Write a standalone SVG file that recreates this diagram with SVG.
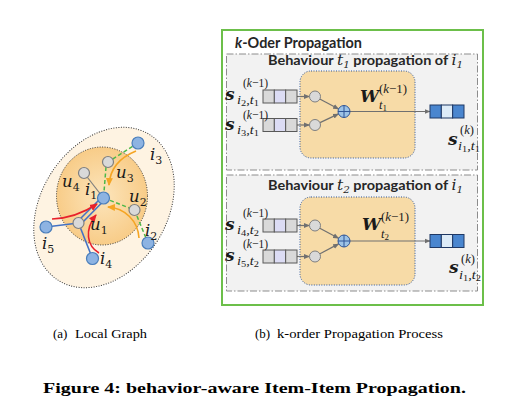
<svg xmlns="http://www.w3.org/2000/svg" width="505" height="409" viewBox="0 0 505 409">
<defs>
<style>
.sans{font-family:Lato,"Open Sans","Liberation Sans",sans-serif;font-weight:bold;fill:#262626}
.mi{font-family:"DejaVu Serif",serif;font-style:italic;font-weight:normal}
.math{font-family:"DejaVu Serif",serif;font-style:italic;fill:#1a1a1a}
.ms{font-family:"Liberation Serif",serif;font-style:italic;fill:#1a1a1a;font-size:12.5px}
.bn{fill:#8DB3E2;stroke:#4A7EBB;stroke-width:1.2}
.gn{fill:#D9D9D9;stroke:#7F7F7F;stroke-width:1.2}
.gd{fill:none;stroke:#4CB848;stroke-width:1.5;stroke-dasharray:4 2.5}
.bl{fill:none;stroke:#4472C4;stroke-width:1.6}
.gl{fill:none;stroke:#7F7F7F;stroke-width:1.2}
.rd{fill:none;stroke:#E8212B;stroke-width:1.6}
.or{fill:none;stroke:#F5A524;stroke-width:1.6}
.ga{fill:none;stroke:#707070;stroke-width:1.2}
.sec{fill:#F2F2F2;stroke:#8C8C8C;stroke-width:1;stroke-dasharray:7 2 1.5 2}
.yb{fill:#F7DBA7;stroke:#2F5597;stroke-width:1;stroke-dasharray:1 1.5}
.cg{fill:#D9D9D9;stroke:#595959;stroke-width:1}
.cl{fill:#DCDCF4;stroke:#595959;stroke-width:1}
.cb{fill:#4A86CF;stroke:#1F3864;stroke-width:1}
.cbl{fill:#DDEBF7;stroke:#1F3864;stroke-width:1}
.nd{fill:#D9D9D9;stroke:#7F7F7F;stroke-width:1}
.sum{fill:#9DC3E6;stroke:#2F5597;stroke-width:1}
.cap{font-family:"Liberation Serif",serif;fill:#000}
</style>
<radialGradient id="gin" cx="0.5" cy="0.5" r="0.5">
<stop offset="0" stop-color="#FCE5BC"/><stop offset="1" stop-color="#F8CC88"/>
</radialGradient>
<marker id="ag" viewBox="0 0 6 6" refX="5.5" refY="3" markerWidth="6" markerHeight="6" markerUnits="userSpaceOnUse" orient="auto"><path d="M0,0.5 L6,3 L0,5.5z" fill="#707070"/></marker>
<marker id="ar" viewBox="0 0 8 8" refX="7" refY="4" markerWidth="8" markerHeight="8" markerUnits="userSpaceOnUse" orient="auto"><path d="M0,0.5 L8,4 L0,7.5z" fill="#E8212B"/></marker>
<marker id="ao" viewBox="0 0 8 8" refX="7" refY="4" markerWidth="8" markerHeight="8" markerUnits="userSpaceOnUse" orient="auto"><path d="M0,0.5 L8,4 L0,7.5z" fill="#F5A524"/></marker>
</defs>
<rect width="505" height="409" fill="#fff"/>

<g id="local-graph">
<ellipse cx="104" cy="207.5" rx="63" ry="86" transform="rotate(32 104 207.5)" fill="#FEF3E2" stroke="#333" stroke-width="1" stroke-dasharray="1 1.5"/>
<ellipse cx="102" cy="196" rx="45.5" ry="49" fill="url(#gin)" stroke="#333" stroke-width="1" stroke-dasharray="1 1.5"/>
</g>

<g id="panel-b">
<rect x="222" y="30" width="261" height="275" fill="#fff" stroke="#6CBF4A" stroke-width="2"/>
<text class="sans" x="235" y="48" font-size="15" textLength="127" lengthAdjust="spacingAndGlyphs"><tspan font-style="italic">k</tspan>-Oder Propagation</text>
</g>

<g id="section-t1">
<rect class="sec" x="226.5" y="54" width="251" height="116"/>
<text class="sans" x="268" y="65" font-size="14" textLength="195" lengthAdjust="spacingAndGlyphs">Behaviour <tspan class="mi" font-size="15">t</tspan><tspan class="mi" font-size="10" font-style="normal" dy="3">1</tspan><tspan dy="-3"> propagation of </tspan><tspan class="mi" font-size="15">i</tspan><tspan class="mi" font-size="10" font-style="normal" dy="3">1</tspan></text>
<rect class="yb" x="300" y="71" width="115" height="87" rx="11"/>
</g>

<g id="section-t2">
<rect class="sec" x="226.5" y="175" width="251" height="116"/>
<text class="sans" x="268" y="190" font-size="14" textLength="195" lengthAdjust="spacingAndGlyphs">Behaviour <tspan class="mi" font-size="15">t</tspan><tspan class="mi" font-size="10" font-style="normal" dy="3">2</tspan><tspan dy="-3"> propagation of </tspan><tspan class="mi" font-size="15">i</tspan><tspan class="mi" font-size="10" font-style="normal" dy="3">1</tspan></text>
<rect class="yb" x="300" y="197" width="115" height="88" rx="11"/>
</g>

<g id="connectors">
<line class="gl" x1="84" y1="173" x2="103.5" y2="198"/>
<path class="gd" d="M138,143 L108,162"/>
<path class="gd" d="M106,167 L104,192"/>
<path class="gd" d="M104,198 L134.5,210"/>
<path class="gd" d="M134.5,210 L148,243"/>
<line class="bl" x1="46" y1="227" x2="78.5" y2="223"/>
<line class="bl" x1="77" y1="222" x2="102" y2="197"/>
<line class="bl" x1="80.5" y1="224.5" x2="105" y2="199.5"/>
<line class="bl" x1="92.5" y1="258.5" x2="78.5" y2="223"/>
<path class="rd" d="M52,219 Q76,218 97,204" marker-end="url(#ar)"/>
<path class="rd" d="M99,253 C87,246 84,230 96,215" marker-end="url(#ar)"/>
<path class="or" d="M136,151 C121,157 110,168 109,185" marker-end="url(#ao)"/>
<path class="or" d="M139,238 C138,221 125,208 108,207" marker-end="url(#ao)"/>
<line class="ga" x1="297" y1="96.5" x2="309.5" y2="96.5" marker-end="url(#ag)"/>
<line class="ga" x1="297" y1="125" x2="309.5" y2="125" marker-end="url(#ag)"/>
<line class="ga" x1="319.8" y1="99" x2="338.6" y2="109" marker-end="url(#ag)"/>
<line class="ga" x1="320" y1="122.6" x2="338.5" y2="113.9" marker-end="url(#ag)"/>
<line class="ga" x1="350" y1="111.5" x2="430" y2="111.5" marker-end="url(#ag)"/>
<line class="ga" x1="297" y1="225.5" x2="309.5" y2="225.5" marker-end="url(#ag)"/>
<line class="ga" x1="297" y1="256.5" x2="309.5" y2="256.5" marker-end="url(#ag)"/>
<line class="ga" x1="319.8" y1="228.2" x2="338.6" y2="238.3" marker-end="url(#ag)"/>
<line class="ga" x1="320" y1="253.7" x2="338.6" y2="243.9" marker-end="url(#ag)"/>
<line class="ga" x1="350" y1="241" x2="430" y2="241" marker-end="url(#ag)"/>
</g>

<g id="node-u4"><circle class="gn" cx="84" cy="173" r="5.5"/><text class="math" x="62" y="187" font-size="16.5">u<tspan font-size="11" font-style="normal" dy="4">4</tspan></text></g>
<g id="node-u3"><circle class="gn" cx="108" cy="162" r="5.5"/><text class="math" x="116" y="178" font-size="16.5">u<tspan font-size="11" font-style="normal" dy="4">3</tspan></text></g>
<g id="node-i3"><circle class="bn" cx="138" cy="143" r="6"/><text class="math" x="150" y="160" font-size="16.5">i<tspan font-size="11" font-style="normal" dy="4">3</tspan></text></g>
<g id="node-i1"><circle class="bn" cx="103.5" cy="198" r="6"/><text class="math" x="85" y="195" font-size="16.5">i<tspan font-size="11" font-style="normal" dy="4">1</tspan></text></g>
<g id="node-u2"><circle class="gn" cx="134.5" cy="210" r="5.5"/><text class="math" x="129" y="202" font-size="16.5">u<tspan font-size="11" font-style="normal" dy="4">2</tspan></text></g>
<g id="node-i2"><circle class="bn" cx="148" cy="243" r="6"/><text class="math" x="145" y="236" font-size="16.5">i<tspan font-size="11" font-style="normal" dy="4">2</tspan></text></g>
<g id="node-u1"><circle class="gn" cx="78.5" cy="223" r="5.5"/><text class="math" x="90" y="230" font-size="16.5">u<tspan font-size="11" font-style="normal" dy="4">1</tspan></text></g>
<g id="node-i5"><circle class="bn" cx="46" cy="227" r="6"/><text class="math" x="42" y="249" font-size="16.5">i<tspan font-size="11" font-style="normal" dy="4">5</tspan></text></g>
<g id="node-i4"><circle class="bn" cx="92.5" cy="258.5" r="6"/><text class="math" x="100" y="264" font-size="16.5">i<tspan font-size="11" font-style="normal" dy="4">4</tspan></text></g>

<g id="in-i2-t1">
<rect class="cg" x="263" y="90" width="11.33" height="13"/><rect class="cl" x="274.33" y="90" width="11.33" height="13"/><rect class="cg" x="285.67" y="90" width="11.33" height="13"/>
<text class="math" x="225" y="100" font-size="17" font-weight="bold">s</text>
<text class="ms" x="243" y="87" textLength="25" lengthAdjust="spacingAndGlyphs"><tspan font-style="normal">(</tspan>k<tspan font-style="normal">−1)</tspan></text>
<text class="ms" x="237" y="104" textLength="22" lengthAdjust="spacingAndGlyphs">i<tspan font-size="9" font-style="normal" dy="1.5">2</tspan><tspan dy="-1.5">,t</tspan><tspan font-size="9" font-style="normal" dy="1.5">1</tspan></text>
</g>
<g id="in-i3-t1">
<rect class="cg" x="263" y="118.5" width="11.33" height="13"/><rect class="cl" x="274.33" y="118.5" width="11.33" height="13"/><rect class="cg" x="285.67" y="118.5" width="11.33" height="13"/>
<text class="math" x="225" y="129.5" font-size="17" font-weight="bold">s</text>
<text class="ms" x="243" y="118.5" textLength="25" lengthAdjust="spacingAndGlyphs"><tspan font-style="normal">(</tspan>k<tspan font-style="normal">−1)</tspan></text>
<text class="ms" x="237" y="134" textLength="22" lengthAdjust="spacingAndGlyphs">i<tspan font-size="9" font-style="normal" dy="1.5">3</tspan><tspan dy="-1.5">,t</tspan><tspan font-size="9" font-style="normal" dy="1.5">1</tspan></text>
</g>
<g id="neuron-t1-a"><circle class="nd" cx="315" cy="96.5" r="5.5"/></g>
<g id="neuron-t1-b"><circle class="nd" cx="315" cy="125" r="5.5"/></g>
<g id="sum-t1"><circle class="sum" cx="344" cy="111.5" r="6"/><path d="M338,111.5 H350 M344,105.5 V117.5" stroke="#2F5597" stroke-width="1"/></g>
<g id="w-t1">
<text class="math" x="360" y="102" font-size="17" font-weight="bold">W</text>
<text class="ms" x="379" y="93" textLength="28" lengthAdjust="spacingAndGlyphs"><tspan font-style="normal">(</tspan>k<tspan font-style="normal">−1)</tspan></text>
<text class="ms" x="379" y="109">t<tspan font-size="9" font-style="normal" dy="2">1</tspan></text>
</g>
<g id="out-i1-t1">
<rect class="cb" x="430" y="105" width="11.33" height="13"/><rect class="cbl" x="441.33" y="105" width="11.33" height="13"/><rect class="cb" x="452.67" y="105" width="11.33" height="13"/>
<text class="math" x="448" y="145" font-size="17" font-weight="bold">s</text>
<text class="ms" x="460" y="134"><tspan font-style="normal">(</tspan>k<tspan font-style="normal">)</tspan></text>
<text class="ms" x="458" y="150" textLength="22" lengthAdjust="spacingAndGlyphs">i<tspan font-size="9" font-style="normal" dy="2">1</tspan><tspan dy="-2">,t</tspan><tspan font-size="9" font-style="normal" dy="2">1</tspan></text>
</g>

<g id="in-i4-t2">
<rect class="cg" x="263" y="219" width="11.33" height="13"/><rect class="cl" x="274.33" y="219" width="11.33" height="13"/><rect class="cg" x="285.67" y="219" width="11.33" height="13"/>
<text class="math" x="225" y="229.5" font-size="17" font-weight="bold">s</text>
<text class="ms" x="243" y="216.5" textLength="25" lengthAdjust="spacingAndGlyphs"><tspan font-style="normal">(</tspan>k<tspan font-style="normal">−1)</tspan></text>
<text class="ms" x="237" y="234" textLength="22" lengthAdjust="spacingAndGlyphs">i<tspan font-size="9" font-style="normal" dy="1.5">4</tspan><tspan dy="-1.5">,t</tspan><tspan font-size="9" font-style="normal" dy="1.5">2</tspan></text>
</g>
<g id="in-i5-t2">
<rect class="cg" x="263" y="250" width="11.33" height="13"/><rect class="cl" x="274.33" y="250" width="11.33" height="13"/><rect class="cg" x="285.67" y="250" width="11.33" height="13"/>
<text class="math" x="225" y="260.5" font-size="17" font-weight="bold">s</text>
<text class="ms" x="243" y="248" textLength="25" lengthAdjust="spacingAndGlyphs"><tspan font-style="normal">(</tspan>k<tspan font-style="normal">−1)</tspan></text>
<text class="ms" x="237" y="265" textLength="22" lengthAdjust="spacingAndGlyphs">i<tspan font-size="9" font-style="normal" dy="1.5">5</tspan><tspan dy="-1.5">,t</tspan><tspan font-size="9" font-style="normal" dy="1.5">2</tspan></text>
</g>
<g id="neuron-t2-a"><circle class="nd" cx="315" cy="225.5" r="5.5"/></g>
<g id="neuron-t2-b"><circle class="nd" cx="315" cy="256.5" r="5.5"/></g>
<g id="sum-t2"><circle class="sum" cx="344" cy="241" r="6"/><path d="M338,241 H350 M344,235 V247" stroke="#2F5597" stroke-width="1"/></g>
<g id="w-t2">
<text class="math" x="362" y="230" font-size="17" font-weight="bold">W</text>
<text class="ms" x="381" y="221" textLength="28" lengthAdjust="spacingAndGlyphs"><tspan font-style="normal">(</tspan>k<tspan font-style="normal">−1)</tspan></text>
<text class="ms" x="381" y="238">t<tspan font-size="9" font-style="normal" dy="2">2</tspan></text>
</g>
<g id="out-i1-t2">
<rect class="cb" x="430" y="234.5" width="11.33" height="13"/><rect class="cbl" x="441.33" y="234.5" width="11.33" height="13"/><rect class="cb" x="452.67" y="234.5" width="11.33" height="13"/>
<text class="math" x="449" y="273" font-size="17" font-weight="bold">s</text>
<text class="ms" x="461" y="263"><tspan font-style="normal">(</tspan>k<tspan font-style="normal">)</tspan></text>
<text class="ms" x="459" y="279" textLength="22" lengthAdjust="spacingAndGlyphs">i<tspan font-size="9" font-style="normal" dy="2">1</tspan><tspan dy="-2">,t</tspan><tspan font-size="9" font-style="normal" dy="2">2</tspan></text>
</g>

<g id="captions">
<text class="cap" x="53" y="338" font-size="13">(a)</text>
<text class="cap" x="75" y="338" font-size="13" textLength="72" lengthAdjust="spacingAndGlyphs">Local Graph</text>
<text class="cap" x="255" y="338" font-size="13">(b)</text>
<text class="cap" x="277" y="338" font-size="13" textLength="166" lengthAdjust="spacingAndGlyphs">k-order Propagation Process</text>
<text class="cap" x="43" y="393" font-size="15" font-weight="bold" textLength="423" lengthAdjust="spacingAndGlyphs">Figure 4: behavior-aware Item-Item Propagation.</text>
</g>
</svg>
